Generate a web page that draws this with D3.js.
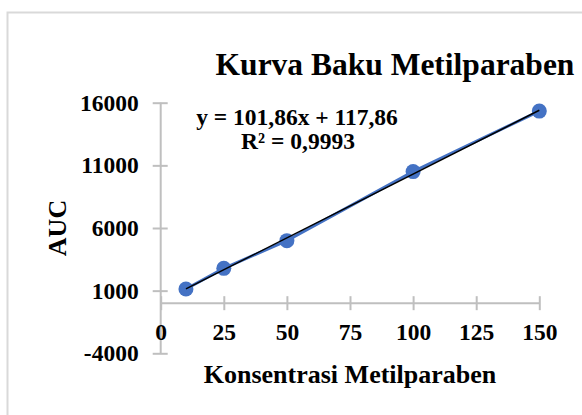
<!DOCTYPE html>
<html>
<head>
<meta charset="utf-8">
<script src="https://cdn.jsdelivr.net/npm/d3@7"></script>
<style>
body { margin: 0; background: #fff; }
text { font-family: "Liberation Serif", "Times New Roman", serif; font-weight: bold; fill: #000; }
</style>
</head>
<body>
<div id="chart"></div>
<script>
//calibration curve data
var konsentrasi = [10, 25, 50, 100, 150];
var auc = [1130, 2780, 4990, 10500, 15330];
var xTicks = [0, 25, 50, 75, 100, 125, 150];
var yTicks = [-4000, 1000, 6000, 11000, 16000];
var trend = [101.86, 117.86];		//slope, intercept of the linear trendline
var eqLabels = ["y = 101,86x + 117,86", "R² = 0,9993"];

var w = 582,
    h = 415;

var svg = d3.select("#chart").append("svg")
    .attr("width", w)
    .attr("height", h);

svg.append("rect")
    .attr("width", w)
    .attr("height", h)
    .attr("fill", "#fff");

//chart area border, runs off the right and bottom edges
svg.append("rect")
    .attr("x", 7.5)
    .attr("y", 12.5)
    .attr("width", 700)
    .attr("height", 500)
    .attr("fill", "none")
    .attr("stroke", "#d9d9d9")
    .attr("stroke-width", 2);

var x = d3.scaleLinear().domain([0, 150]).range([160.7, 539.3]);
var y = d3.scaleLinear().domain([-4000, 16000]).range([353.3, 102.7]);

var axisColor = "#bfbfbf";

//y axis: crossing ticks, labels on the left (plain hyphen for negatives)
var gy = svg.append("g")
    .attr("transform", "translate(" + x(0) + ",0)")
    .call(d3.axisLeft(y).tickValues(yTicks).tickSize(8).tickPadding(14).tickFormat(String));
gy.select(".domain").attr("stroke", axisColor).attr("stroke-width", 2)
    .attr("d", "M0," + y(16000) + "V" + y(-4000));
gy.selectAll(".tick line").attr("stroke", axisColor).attr("stroke-width", 2)
    .attr("x1", -8).attr("x2", 7);
gy.selectAll(".tick text")
    .attr("font-size", 23.5)
    .attr("font-family", null);

//x axis sits at y = 0
var gx = svg.append("g")
    .attr("transform", "translate(0," + y(0) + ")")
    .call(d3.axisBottom(x).tickValues(xTicks).tickSize(7).tickPadding(13).tickFormat(String));
gx.select(".domain").attr("stroke", axisColor).attr("stroke-width", 2)
    .attr("d", "M" + x(0) + ",0H" + x(150));
gx.selectAll(".tick line").attr("stroke", axisColor).attr("stroke-width", 2)
    .attr("y1", -7).attr("y2", 7);
gx.selectAll(".tick text")
    .attr("font-size", 23.5)
    .attr("font-family", null)
    .attr("dy", "0.71em");

//data series
var pts = konsentrasi.map(function(d, i) { return [d, auc[i]]; });

svg.append("path")
    .datum(pts)
    .attr("fill", "none")
    .attr("stroke", "#4472c4")
    .attr("stroke-width", 3)
    .attr("d", d3.line().x(function(d) { return x(d[0]); }).y(function(d) { return y(d[1]); }));

svg.append("g").selectAll("circle")
    .data(pts)
  .enter().append("circle")
    .attr("cx", function(d) { return x(d[0]); })
    .attr("cy", function(d) { return y(d[1]); })
    .attr("r", 7.5)
    .attr("fill", "#4472c4");

//linear trendline across the data range
var xr = d3.extent(konsentrasi);
svg.append("line")
    .attr("x1", x(xr[0]))
    .attr("y1", y(trend[0] * xr[0] + trend[1]))
    .attr("x2", x(xr[1]))
    .attr("y2", y(trend[0] * xr[1] + trend[1]))
    .attr("stroke", "#000")
    .attr("stroke-width", 1.5);

//equation label
svg.append("text")
    .text(eqLabels[0])
    .attr("x", 297)
    .attr("y", 125)
    .attr("text-anchor", "middle")
    .attr("font-size", 23.5);

svg.append("text")
    .text(eqLabels[1])
    .attr("x", 298)
    .attr("y", 148.5)
    .attr("text-anchor", "middle")
    .attr("font-size", 23.5);

//titles
svg.append("text")
    .text("Kurva Baku Metilparaben")
    .attr("x", 395)
    .attr("y", 75)
    .attr("text-anchor", "middle")
    .attr("font-size", 31.5);

svg.append("text")
    .text("Konsentrasi Metilparaben")
    .attr("x", 350)
    .attr("y", 383)
    .attr("text-anchor", "middle")
    .attr("font-size", 26);

svg.append("text")
    .text("AUC")
    .attr("transform", "translate(66,228) rotate(-90)")
    .attr("text-anchor", "middle")
    .attr("font-size", 26);
</script>
</body>
</html>
